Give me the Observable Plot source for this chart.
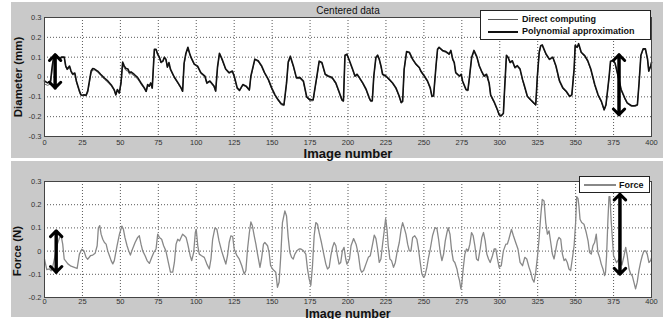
<!DOCTYPE html>
<html>
<head>
<meta charset="utf-8">
<script src="https://cdn.jsdelivr.net/npm/d3@7"></script>
<script src="https://cdn.jsdelivr.net/npm/@observablehq/plot@0.6"></script>
<style>
  body { margin: 0; background: #fff; }
  #wrap { position: relative; width: 668px; height: 319px; overflow: hidden; background: #fff; font-family: "Liberation Sans", Arial, sans-serif; }
  .bg { position: absolute; background: #c9c9c9; }
  .plot { position: absolute; left: 0; }
  .legend { position: absolute; background: #fff; border: 1px solid #222; box-sizing: border-box; }
  .legend .ln { position: absolute; }
  .legend .tx { position: absolute; font-size: 9px; font-weight: bold; color: #111; line-height: 10px; white-space: nowrap; }
</style>
</head>
<body>
<div id="wrap">
  <div class="bg" style="left:11px;top:2px;width:652px;height:156px"></div>
  <div class="bg" style="left:11px;top:161px;width:652px;height:156px"></div>
  <div id="p1" class="plot" style="top:0"></div>
  <div id="p2" class="plot" style="top:160px"></div>
  <div class="legend" style="left:480px;top:10px;width:171px;height:30px">
    <div class="ln" style="left:7px;top:8px;width:30px;height:1px;background:#555"></div>
    <div class="tx" style="left:41px;top:3px">Direct computing</div>
    <div class="ln" style="left:7px;top:20px;width:30px;height:2px;background:#111"></div>
    <div class="tx" style="left:41px;top:15px">Polynomial approximation</div>
  </div>
  <div class="legend" style="left:579px;top:176px;width:71px;height:17px">
    <div class="ln" style="left:4px;top:7px;width:32px;height:1.5px;background:#888"></div>
    <div class="tx" style="left:39px;top:3px">Force</div>
  </div>
</div>
<script>
// ---------- Data ----------
const xTicks = [0,25,50,75,100,125,150,175,200,225,250,275,300,325,350,375,400];
const yTicksTop = [-0.3,-0.2,-0.1,0,0.1,0.2,0.3];
const yTicksBottom = [-0.2,-0.1,0,0.1,0.2,0.3];

// Image numbers sampled for the diameter curves
const imgDiameter = [
  0,2,4,5,6,8,10,11,13,14,
  15,16.5,17.5,18.6,20,21,22,23,24,25,
  26,27.4,28.5,29.6,30.7,31.8,33,35,37,39.5,
  41.7,44,46,47,48,49.3,50.4,51.5,52.6,53.7,
  55,56,57,59,61.4,63.6,65.8,67,68,69,
  70,71,72.4,73.5,74.6,75.7,76.8,78,79,80,
  81,82,83,85.5,87.7,90,91,92,93.2,94.5,
  95.4,96.5,98.7,100.9,103,105.7,107,109,111.7,112.8,
  114,115.3,117,119.4,121.6,123.8,125,127,128.5,130.7,
  132.9,135,136,138.6,140.8,143,145,147.5,149.7,151.9,
  154,156,157.8,159.5,160.6,162,164,166,168.4,170.6,
  172.8,175,177,179.5,181,182.8,185,187,189.6,192,
  194,196,197,198,199.3,201,203,204.6,206,207.5,
  209.7,212,214,215,216,217,218.4,219.5,220.6,221.7,
  222.8,225,227.2,229.4,231.6,233.8,235,236,237,238.6,
  240.4,242.6,244.8,247,248,250.3,252.4,254.2,255.3,256.4,
  258,259,260,262.3,264.5,266.7,267.8,269,270,271,
  273.5,274.6,275.5,277.8,279,280,281.5,283,285,286.5,
  288,289.7,291.3,293,294,296.3,298.5,299.6,301,302.4,
  303.3,304.4,305.5,306.8,308.3,310,311.6,313.4,315,316,
  318.2,320.4,322.6,323.7,324.8,326,327,328,330.5,332.7,
  335,337,339.4,341.6,343.8,346,347.5,349,349.7,351,
  352,353.7,356,358,360,362.6,364.8,367,368.8,370,
  372,373,374.7,376,378,380,382.4,384,386.8,389,
  390.7,391.8,393,394.5,396,397.4,398.2,399.5,400
];

// Polynomial approximation (mm)
const polyApprox = [
  -0.02,-0.03,-0.02,0.05,0.1,0.11,0.09,0.1,0.1,0.055,
  0.04,0.055,0.03,0.015,0.02,-0.02,-0.045,-0.07,-0.09,-0.092,
  -0.09,-0.092,-0.07,-0.02,0.03,0.043,0.04,0.03,0.014,-0.005,
  -0.02,-0.04,-0.065,-0.09,-0.063,-0.08,-0.03,0.075,0.055,0.043,
  0.04,0.022,0.026,0.014,-0.003,-0.03,-0.055,-0.072,-0.038,-0.046,
  -0.03,-0.055,0.14,0.14,0.115,0.1,0.075,0.08,0.1,0.09,
  0.05,0.073,0.04,0,-0.026,-0.055,-0.072,0.07,0.12,0.15,
  0.125,0.1,0.065,0.055,0.022,0.005,-0.03,-0.02,-0.045,-0.07,
  0.05,0.12,0.09,0.04,0.022,0.03,0.005,-0.055,-0.067,-0.038,
  -0.046,-0.065,0.005,0.09,0.082,0.057,0.022,-0.012,-0.055,-0.09,
  -0.115,-0.135,-0.14,-0.03,0.075,0.105,0.056,-0.003,-0.003,-0.02,
  -0.1,-0.115,-0.115,0.005,0.08,0.073,0.014,0.005,-0.003,-0.03,
  -0.072,-0.115,-0.12,0.11,0.115,0.082,0.04,0.005,0.014,-0.003,
  -0.03,-0.063,-0.105,-0.12,-0.12,0.005,0.1,0.11,0.09,0.057,
  0.014,0.005,-0.012,-0.03,-0.055,-0.097,-0.128,-0.123,0.04,0.128,
  0.125,0.09,0.065,0.048,0.03,0.005,-0.02,-0.055,-0.097,-0.094,
  0.057,0.14,0.15,0.134,0.128,0.116,0.134,0.09,0.074,0.022,
  0.005,0.014,-0.02,-0.063,-0.066,-0.003,0.1,0.134,0.1,0.057,
  0.03,0.005,0.014,-0.03,-0.09,-0.125,-0.165,-0.19,-0.195,-0.183,
  -0.046,0.11,0.1,0.074,0.082,0.048,0.057,0.04,-0.012,-0.038,
  -0.097,-0.115,-0.132,-0.14,0.005,0.125,0.158,0.162,0.116,0.09,
  0.1,0.057,-0.02,-0.055,-0.072,-0.097,-0.09,0.04,0.16,0.15,
  0.168,0.125,0.108,0.082,0.04,-0.038,-0.09,-0.123,-0.165,-0.14,
  -0.003,0.08,0.085,0.07,0.005,-0.063,-0.106,-0.13,-0.145,-0.145,
  -0.14,-0.03,0.11,0.142,0.142,0.09,0.03,0.057,0.074
];

// Direct computing (mm)
const directComputing = [
  -0.035,-0.042,-0.035,0.03,0.09,0.1,0.085,0.095,0.1,0.05,
  0.035,0.05,0.025,0.01,0.015,-0.025,-0.05,-0.075,-0.093,-0.095,
  -0.093,-0.095,-0.078,-0.03,0.02,0.035,0.035,0.025,0.008,-0.012,
  -0.026,-0.045,-0.07,-0.092,-0.068,-0.085,-0.035,0.062,0.045,0.033,
  0.03,0.014,0.018,0.006,-0.01,-0.036,-0.06,-0.076,-0.042,-0.05,
  -0.034,-0.058,0.135,0.137,0.11,0.097,0.07,0.077,0.097,0.087,
  0.047,0.07,0.036,-0.004,-0.03,-0.058,-0.075,0.065,0.115,0.147,
  0.122,0.097,0.062,0.05,0.018,0.001,-0.034,-0.024,-0.05,-0.074,
  0.045,0.117,0.087,0.037,0.018,0.026,0.001,-0.06,-0.071,-0.042,
  -0.05,-0.069,0,0.086,0.078,0.053,0.018,-0.016,-0.06,-0.095,
  -0.12,-0.14,-0.145,-0.035,0.07,0.1,0.052,-0.008,-0.008,-0.025,
  -0.105,-0.12,-0.12,0,0.076,0.069,0.01,0.001,-0.008,-0.035,
  -0.077,-0.12,-0.124,0.105,0.112,0.078,0.036,0.001,0.01,-0.007,
  -0.034,-0.068,-0.11,-0.124,-0.124,0,0.096,0.107,0.086,0.053,
  0.01,0.001,-0.016,-0.034,-0.06,-0.1,-0.132,-0.127,0.035,0.125,
  0.121,0.086,0.061,0.044,0.026,0.001,-0.024,-0.06,-0.1,-0.098,
  0.052,0.136,0.147,0.13,0.124,0.112,0.13,0.086,0.07,0.018,
  0.001,0.01,-0.024,-0.068,-0.07,-0.008,0.096,0.13,0.096,0.053,
  0.026,0.001,0.01,-0.034,-0.095,-0.13,-0.17,-0.193,-0.198,-0.186,
  -0.05,0.106,0.096,0.07,0.078,0.044,0.053,0.036,-0.016,-0.042,
  -0.1,-0.12,-0.136,-0.144,0,0.12,0.155,0.158,0.112,0.086,
  0.096,0.053,-0.024,-0.06,-0.076,-0.1,-0.094,0.035,0.155,0.147,
  0.164,0.121,0.104,0.078,0.036,-0.042,-0.094,-0.127,-0.168,-0.144,
  -0.008,0.076,0.081,0.066,0.001,-0.068,-0.11,-0.134,-0.148,-0.148,
  -0.144,-0.034,0.106,0.138,0.138,0.086,0.026,0.053,0.07
];

// Image numbers sampled for the force curve
const imgForce = [
  0,1.5,3.3,4.4,5.5,7,8.5,10,11,12,
  13,15.4,17.5,19.7,21.5,23,24.6,26,27.4,28.5,
  30.3,31.8,33.4,34.7,35.5,36.4,37.3,38.4,39.5,40.6,
  41.7,42.8,43.9,45,46,47.8,49.4,51,52,53,
  54.4,55.5,56.6,58,59.7,61.4,62.5,63.6,64.7,66.3,
  67.6,69.1,70.7,72,73.5,74.6,75.7,77.2,78.5,80,
  81.6,83,84.5,85.6,86.7,87.8,89,90,91,92.2,
  93.3,94.4,96,97,98.3,99.4,100,101,102,103.5,
  105.3,107,108.6,109.7,110.8,112.3,113.6,115,116.7,118.4,
  119.5,120.6,121.7,122.8,124,125,126.8,128.3,130,131.6,
  132.7,133.8,135,136,137,138.2,139.3,140.4,142,143,
  144.3,145.2,147,148,149,150.3,151.3,152.4,153.5,154.6,
  155.7,156.8,158.4,159.5,160.6,161.7,162.8,163.9,165,166.3,
  167.8,169,170.7,172.2,173.3,174.4,175.5,176.6,177.7,178.8,
  179.9,181,182.5,183.8,185.4,186.5,187.6,188.7,189.8,190.9,
  192,193,194.1,195.2,196.3,197.4,198.5,199.3,201,202,
  203.7,205.3,206.8,208.1,209,210.3,211.8,213.4,214.7,216.2,
  217.3,218.4,219.5,220.6,221.7,222.8,224,224.8,225.7,226.5,
  227.6,228.7,230,231.2,232.3,233.8,235,236,237,238.2,
  239.3,240.4,241.5,242.6,244,245.4,246.3,247.6,248.7,249.8,
  250.7,252,252.9,254.2,255.7,257.3,258.6,259.7,260.8,261.9,
  263,264.1,265.2,266,267.2,268.3,269.4,270.4,271.8,272.6,
  273.5,274.4,275,275.9,277,278.1,279.2,280.3,281.4,282.5,
  283.6,284.7,285.8,287.1,288.2,289.3,290.4,291.5,292.6,293.7,
  295.2,296.3,297.4,298.5,299.6,301,302.4,304,305,306,
  307.7,309,310.5,312,313.4,315,316.5,317.8,319.3,320.4,
  321.5,322.6,323.7,324.8,325.9,327,328,329.2,330.3,331.4,
  332.5,333.6,334.7,335.8,337,338,339,340.2,341.3,342.4,
  343.4,344.5,345.6,346.7,347.8,349,350,350.7,351.6,352.2,
  352.9,354,355.5,357,358.2,359.2,360.3,361.4,362.5,363.6,
  364.7,365.8,366.9,368,369.1,369.7,370.4,371.3,372,372.6,
  373.5,375,377,379,380.5,381.9,383,384,385.2,386.3,
  387.3,388.4,389.5,390.6,391.7,392.8,393.9,395,396.2,397.2,
  398.3,399.4,400
];

// Force (N)
const force = [
  -0.035,-0.08,-0.077,-0.085,-0.065,-0.02,0.03,0.06,0.065,0.03,
  -0.035,-0.055,-0.065,-0.07,-0.075,-0.013,0.008,0.001,-0.027,-0.035,
  -0.02,-0.017,-0.009,0.023,0.1,0.11,0.073,0.051,0.037,0.03,
  0,-0.02,-0.041,-0.055,-0.041,0.023,0.073,0.108,0.094,0.059,
  0.023,0.001,-0.017,0.009,0.037,0.059,0.066,0.03,0.001,-0.02,
  -0.041,-0.053,-0.027,-0.006,0.009,0.073,0.059,0.051,0.023,0.001,
  -0.049,-0.091,-0.091,-0.049,0.03,0.051,0.044,0.059,0.073,0.066,
  0.059,0.03,-0.02,-0.041,-0.006,0.08,0.094,0.023,-0.013,-0.02,
  -0.027,-0.056,-0.077,-0.034,0.051,0.1,0.094,0.044,0.001,-0.034,
  -0.056,-0.02,0.037,0.066,0.063,0.009,-0.02,-0.034,-0.063,-0.099,
  -0.084,0.009,0.08,0.126,0.109,0.066,0.03,-0.013,-0.07,-0.034,
  0.03,0.037,0.023,-0.006,-0.063,-0.077,-0.084,-0.091,-0.156,-0.134,
  -0.02,0.123,0.173,0.151,0.059,-0.006,-0.027,-0.034,-0.013,0.001,
  0.009,0.009,0.001,-0.013,-0.077,-0.12,-0.148,-0.063,0.066,0.123,
  0.116,0.08,0.037,-0.006,-0.056,-0.077,-0.07,-0.02,0.016,0.037,
  0.023,-0.02,-0.056,-0.049,0.001,0.016,-0.034,-0.056,-0.034,0.023,
  0.054,0.03,-0.013,-0.077,-0.091,-0.084,-0.056,-0.027,-0.02,0.03,
  0.069,0.054,0.009,-0.049,-0.034,0.03,0.094,0.14,0.094,0.023,
  -0.034,-0.041,-0.07,-0.049,-0.006,0.037,0.094,0.123,0.101,0.073,
  0.03,0.001,0.001,0.059,0.066,0.051,0.016,-0.049,-0.099,-0.113,
  -0.106,-0.07,-0.034,0.009,0.066,0.101,0.097,0.051,-0.006,-0.041,
  -0.013,0.044,0.08,0.101,0.073,0.001,-0.041,-0.049,-0.077,-0.106,
  -0.127,-0.163,-0.141,-0.077,-0.013,0.009,0.001,0.03,0.08,0.066,
  0.023,-0.034,-0.041,0.009,0.059,0.08,0.044,-0.013,-0.034,-0.049,
  -0.02,0.009,0.009,-0.034,-0.07,-0.063,0.001,0.03,0.03,0.051,
  0.094,0.066,0.037,0.009,-0.049,-0.063,-0.027,-0.034,-0.07,-0.091,
  -0.12,-0.134,-0.091,-0.027,0.051,0.151,0.223,0.216,0.123,0.073,
  0.087,0.037,-0.013,-0.034,0.009,0.044,0.059,0.051,-0.013,-0.041,
  -0.034,-0.049,-0.077,-0.084,-0.034,0.023,0.123,0.235,0.226,0.194,
  0.137,0.123,0.116,0.08,0.044,-0.006,-0.013,0.023,0.037,0.073,
  -0.006,-0.027,-0.056,-0.077,-0.106,-0.091,-0.02,0.137,0.235,0.235,
  0.123,-0.02,-0.05,-0.03,-0.06,-0.02,0.016,-0.02,-0.077,-0.099,
  -0.106,-0.134,-0.163,-0.134,-0.084,-0.049,-0.02,0.001,0.001,-0.013,
  -0.049,-0.041,-0.03
];

// Double-headed arrow annotations (image number, upper and lower value)
const arrowTopX = [7, 378.6];
const arrowTopHi = [0.112, 0.112];
const arrowTopLo = [-0.055, -0.19];
const arrowBotX = [7.7, 379.2];
const arrowBotHi = [0.087, 0.245];
const arrowBotLo = [-0.091, -0.099];

// ---------- Rendering ----------
const fmtY = d => d === 0 ? "0" : d.toFixed(1);
const fontFam = "'Liberation Sans', Arial, Helvetica, sans-serif";
const gridStyle = {stroke: "#222", strokeOpacity: 0.75, strokeDasharray: "1,2", strokeWidth: 1};

function doubleArrows(xs, hi, lo) {
  const idx = xs.map((_, i) => i);
  const common = {stroke: "#000", strokeWidth: 3, headLength: 4, headAngle: 90, bend: 0};
  return [
    Plot.arrow(idx, {x1: i => xs[i], y1: i => lo[i], x2: i => xs[i], y2: i => hi[i], ...common}),
    Plot.arrow(idx, {x1: i => xs[i], y1: i => hi[i], x2: i => xs[i], y2: i => lo[i], ...common})
  ];
}

const chartTop = Plot.plot({
  width: 668, height: 160,
  marginLeft: 44, marginRight: 17, marginTop: 17, marginBottom: 24,
  style: {background: "transparent", fontFamily: fontFam, fontSize: "8px", color: "#333", overflow: "visible"},
  x: {domain: [0, 400]},
  y: {domain: [-0.3, 0.3]},
  marks: [
    Plot.frame({fill: "white"}),
    Plot.gridX(xTicks, gridStyle),
    Plot.gridY(yTicksTop, gridStyle),
    Plot.line(directComputing, {x: imgDiameter, y: directComputing, stroke: "#666", strokeWidth: 1}),
    Plot.line(polyApprox, {x: imgDiameter, y: polyApprox, stroke: "#111", strokeWidth: 1.6}),
    ...doubleArrows(arrowTopX, arrowTopHi, arrowTopLo),
    Plot.frame({stroke: "#444"}),
    Plot.axisX(xTicks, {tickSize: 0, tickPadding: 3, label: null, tickFormat: d => String(d), fill: "#333", fontSize: 7.5}),
    Plot.axisY(yTicksTop, {tickSize: 0, tickPadding: 3, label: null, tickFormat: fmtY, fill: "#333", fontSize: 7.5}),
    Plot.text(["Centered data"], {text: d => d, frameAnchor: "top", lineAnchor: "middle", dy: -7, fontSize: 10, fill: "#111"}),
    Plot.text(["Image number"], {text: d => d, frameAnchor: "bottom", lineAnchor: "middle", dy: 17, fontSize: 13, fontWeight: "bold", fill: "#111"}),
    Plot.text(["Diameter (mm)"], {text: d => d, y: [0], frameAnchor: "left", textAnchor: "middle", lineAnchor: "middle", dx: -26, rotate: -90, fontSize: 11.5, fontWeight: "bold", fill: "#111"})
  ]
});
document.getElementById("p1").appendChild(chartTop);

const chartBottom = Plot.plot({
  width: 668, height: 159,
  marginLeft: 44, marginRight: 17, marginTop: 21, marginBottom: 22,
  style: {background: "transparent", fontFamily: fontFam, fontSize: "8px", color: "#333", overflow: "visible"},
  x: {domain: [0, 400]},
  y: {domain: [-0.2, 0.3]},
  marks: [
    Plot.frame({fill: "white"}),
    Plot.gridX(xTicks, gridStyle),
    Plot.gridY(yTicksBottom, gridStyle),
    Plot.line(force, {x: imgForce, y: force, stroke: "#888", strokeWidth: 1.3}),
    ...doubleArrows(arrowBotX, arrowBotHi, arrowBotLo),
    Plot.frame({stroke: "#444"}),
    Plot.axisX(xTicks, {tickSize: 0, tickPadding: 1, label: null, tickFormat: d => String(d), fill: "#333", fontSize: 7.5}),
    Plot.axisY(yTicksBottom, {tickSize: 0, tickPadding: 3, label: null, tickFormat: fmtY, fill: "#333", fontSize: 7.5}),
    Plot.text(["Image number"], {text: d => d, frameAnchor: "bottom", lineAnchor: "middle", dy: 16, fontSize: 12.5, fontWeight: "bold", fill: "#111"}),
    Plot.text(["Force (N)"], {text: d => d, y: [0], frameAnchor: "left", textAnchor: "middle", lineAnchor: "middle", dx: -27, rotate: -90, fontSize: 11.5, fontWeight: "bold", fill: "#111"})
  ]
});
document.getElementById("p2").appendChild(chartBottom);
</script>
</body>
</html>
